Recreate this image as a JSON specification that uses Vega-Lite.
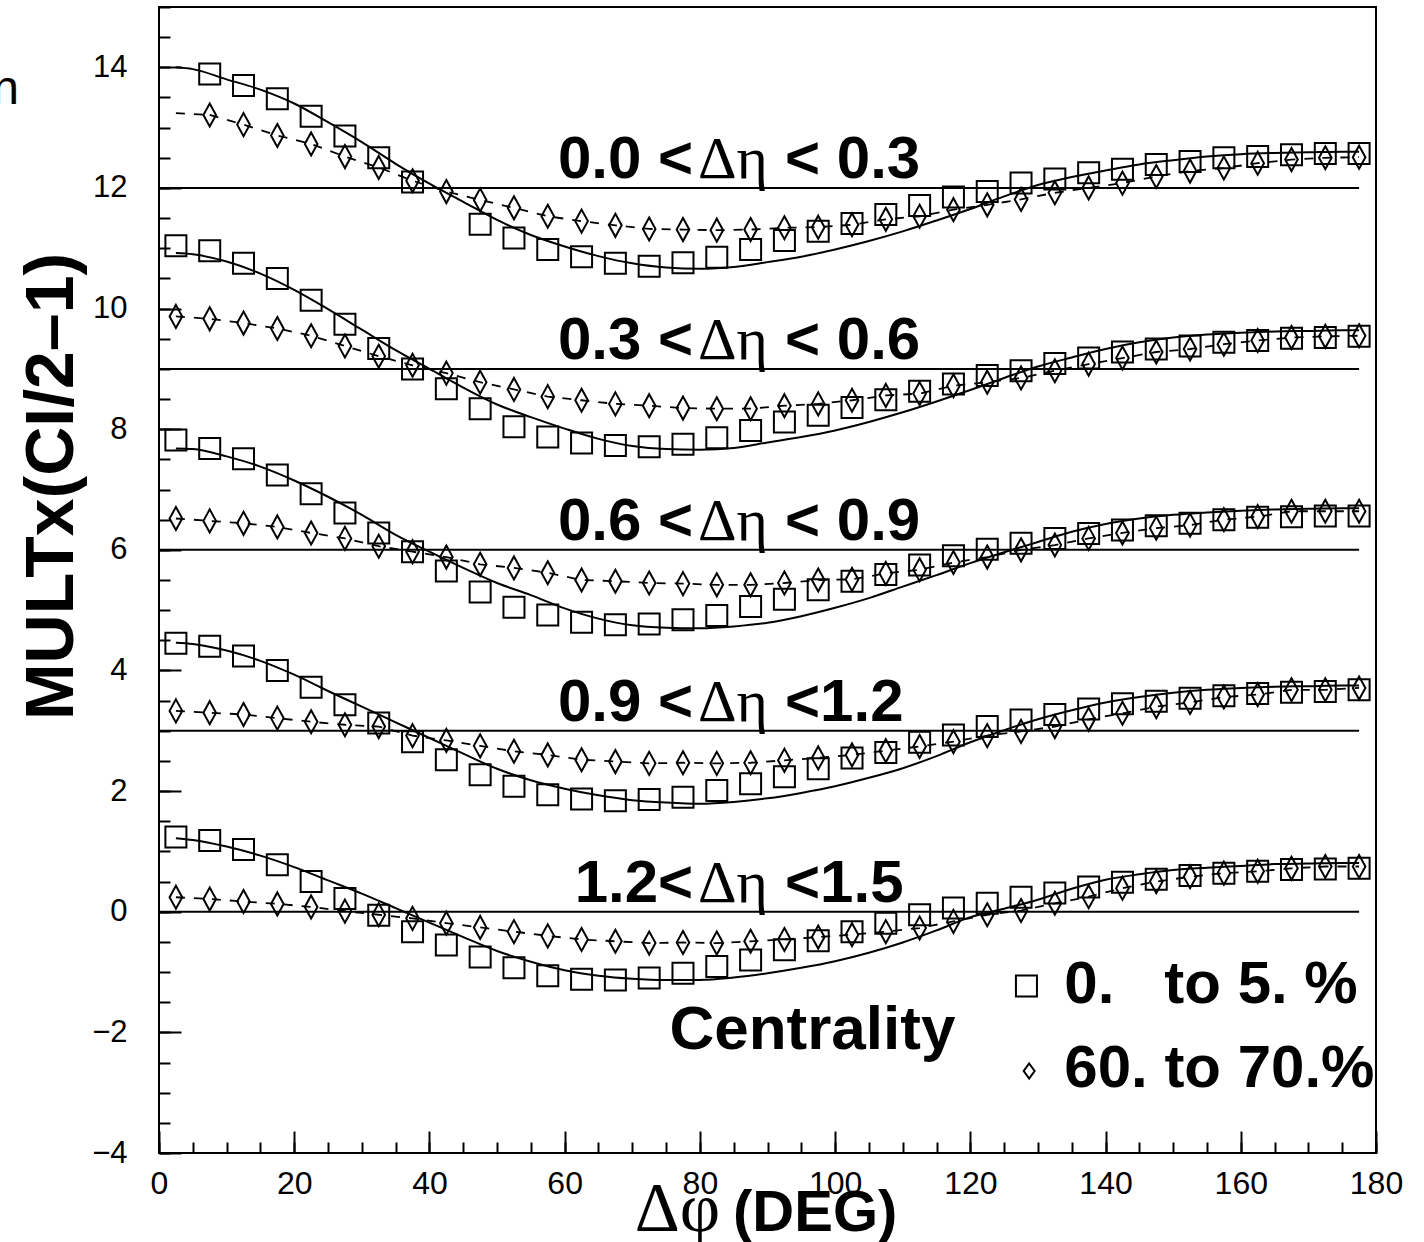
{
  "$schema": "https://vega.github.io/schema/vega-lite/v6.json",
  "width": 1217,
  "height": 1146,
  "autosize": {"type": "none"},
  "padding": {"left": 159, "top": 7, "right": 48, "bottom": 89},
  "background": "white",
  "config": {"view": {"stroke": "black", "strokeWidth": 2}, "axis": {"grid": false}},
  "datasets": {
    "base": [{"off": 12}, {"off": 9}, {"off": 6}, {"off": 3}, {"off": 0}],
    "lab": [
      {"off": 12, "lo": "0.0 <", "hi": "< 0.3"},
      {"off": 9, "lo": "0.3 <", "hi": "< 0.6"},
      {"off": 6, "lo": "0.6 <", "hi": "< 0.9"},
      {"off": 3, "lo": "0.9 <", "hi": "<1.2"},
      {"off": 0, "lo": "1.2<", "hi": "<1.5"}
    ],
    "pts": [
      {"phi": 2.5, "s1": null, "d1": null, "k1": 13.24, "s2": 11.04, "d2": 9.87, "s3": 7.82, "d3": 6.52, "s4": 4.45, "d4": 3.33, "s5": 1.24, "d5": 0.24},
      {"phi": 7.5, "s1": 13.89, "d1": 13.21, "k1": 13.21, "s2": 10.96, "d2": 9.83, "s3": 7.68, "d3": 6.48, "s4": 4.40, "d4": 3.30, "s5": 1.18, "d5": 0.21},
      {"phi": 12.5, "s1": 13.70, "d1": 13.05, "s2": 10.75, "d2": 9.76, "s3": 7.51, "d3": 6.44, "s4": 4.24, "d4": 3.27, "s5": 1.03, "d5": 0.17},
      {"phi": 17.5, "s1": 13.48, "d1": 12.87, "s2": 10.50, "d2": 9.67, "s3": 7.24, "d3": 6.38, "s4": 4.00, "d4": 3.21, "s5": 0.78, "d5": 0.13},
      {"phi": 22.5, "s1": 13.19, "d1": 12.73, "s2": 10.14, "d2": 9.55, "s3": 6.93, "d3": 6.28, "s4": 3.72, "d4": 3.15, "s5": 0.50, "d5": 0.08},
      {"phi": 27.5, "s1": 12.86, "d1": 12.52, "s2": 9.74, "d2": 9.38, "s3": 6.61, "d3": 6.19, "s4": 3.43, "d4": 3.10, "s5": 0.22, "d5": 0.01},
      {"phi": 32.5, "s1": 12.50, "d1": 12.34, "s2": 9.34, "d2": 9.21, "s3": 6.28, "d3": 6.06, "s4": 3.13, "d4": 3.07, "s5": -0.06, "d5": -0.05},
      {"phi": 37.5, "s1": 12.10, "d1": 12.12, "s2": 9.00, "d2": 9.06, "s3": 5.97, "d3": 5.97, "s4": 2.82, "d4": 2.92, "s5": -0.33, "d5": -0.11},
      {"phi": 42.5, "s1": null, "d1": 11.94, "s2": 8.67, "d2": 8.93, "s3": 5.65, "d3": 5.88, "s4": 2.52, "d4": 2.84, "s5": -0.55, "d5": -0.19},
      {"phi": 47.5, "s1": 11.40, "d1": 11.80, "s2": 8.34, "d2": 8.78, "s3": 5.30, "d3": 5.76, "s4": 2.27, "d4": 2.75, "s5": -0.75, "d5": -0.26},
      {"phi": 52.5, "s1": 11.17, "d1": 11.67, "s2": 8.04, "d2": 8.66, "s3": 5.05, "d3": 5.70, "s4": 2.08, "d4": 2.66, "s5": -0.93, "d5": -0.33},
      {"phi": 57.5, "s1": 10.98, "d1": 11.53, "s2": 7.87, "d2": 8.54, "s3": 4.92, "d3": 5.62, "s4": 1.94, "d4": 2.60, "s5": -1.06, "d5": -0.40},
      {"phi": 62.5, "s1": 10.86, "d1": 11.45, "s2": 7.77, "d2": 8.48, "s3": 4.80, "d3": 5.50, "s4": 1.87, "d4": 2.52, "s5": -1.12, "d5": -0.46},
      {"phi": 67.5, "s1": 10.75, "d1": 11.38, "s2": 7.73, "d2": 8.42, "s3": 4.76, "d3": 5.48, "s4": 1.84, "d4": 2.49, "s5": -1.13, "d5": -0.49},
      {"phi": 72.5, "s1": 10.70, "d1": 11.32, "s2": 7.71, "d2": 8.39, "s3": 4.77, "d3": 5.45, "s4": 1.86, "d4": 2.46, "s5": -1.10, "d5": -0.52},
      {"phi": 77.5, "s1": 10.76, "d1": 11.31, "s2": 7.75, "d2": 8.35, "s3": 4.84, "d3": 5.44, "s4": 1.90, "d4": 2.47, "s5": -1.02, "d5": -0.51},
      {"phi": 82.5, "s1": 10.85, "d1": 11.30, "s2": 7.86, "d2": 8.34, "s3": 4.91, "d3": 5.42, "s4": 2.01, "d4": 2.46, "s5": -0.91, "d5": -0.52},
      {"phi": 87.5, "s1": 10.98, "d1": 11.31, "s2": 7.98, "d2": 8.34, "s3": 5.06, "d3": 5.42, "s4": 2.12, "d4": 2.47, "s5": -0.80, "d5": -0.49},
      {"phi": 92.5, "s1": 11.13, "d1": 11.34, "s2": 8.12, "d2": 8.39, "s3": 5.18, "d3": 5.45, "s4": 2.24, "d4": 2.51, "s5": -0.63, "d5": -0.46},
      {"phi": 97.5, "s1": 11.28, "d1": 11.35, "s2": 8.23, "d2": 8.42, "s3": 5.34, "d3": 5.50, "s4": 2.37, "d4": 2.55, "s5": -0.48, "d5": -0.42},
      {"phi": 102.5, "s1": 11.41, "d1": 11.39, "s2": 8.36, "d2": 8.48, "s3": 5.48, "d3": 5.51, "s4": 2.55, "d4": 2.60, "s5": -0.33, "d5": -0.38},
      {"phi": 107.5, "s1": 11.56, "d1": 11.48, "s2": 8.49, "d2": 8.56, "s3": 5.59, "d3": 5.61, "s4": 2.64, "d4": 2.67, "s5": -0.19, "d5": -0.33},
      {"phi": 112.5, "s1": 11.71, "d1": 11.53, "s2": 8.63, "d2": 8.59, "s3": 5.75, "d3": 5.67, "s4": 2.81, "d4": 2.74, "s5": -0.05, "d5": -0.27},
      {"phi": 117.5, "s1": 11.85, "d1": 11.64, "s2": 8.75, "d2": 8.72, "s3": 5.90, "d3": 5.79, "s4": 2.93, "d4": 2.82, "s5": 0.06, "d5": -0.16},
      {"phi": 122.5, "s1": 11.94, "d1": 11.72, "s2": 8.89, "d2": 8.78, "s3": 6.01, "d3": 5.88, "s4": 3.07, "d4": 2.92, "s5": 0.14, "d5": -0.05},
      {"phi": 127.5, "s1": 12.08, "d1": 11.81, "s2": 8.97, "d2": 8.85, "s3": 6.11, "d3": 6.00, "s4": 3.18, "d4": 2.99, "s5": 0.24, "d5": 0.02},
      {"phi": 132.5, "s1": 12.15, "d1": 11.92, "s2": 9.09, "d2": 8.97, "s3": 6.19, "d3": 6.08, "s4": 3.27, "d4": 3.07, "s5": 0.31, "d5": 0.14},
      {"phi": 137.5, "s1": 12.25, "d1": 12.00, "s2": 9.18, "d2": 9.08, "s3": 6.27, "d3": 6.19, "s4": 3.36, "d4": 3.19, "s5": 0.41, "d5": 0.25},
      {"phi": 142.5, "s1": 12.31, "d1": 12.08, "s2": 9.28, "d2": 9.18, "s3": 6.33, "d3": 6.28, "s4": 3.45, "d4": 3.29, "s5": 0.49, "d5": 0.39},
      {"phi": 147.5, "s1": 12.39, "d1": 12.19, "s2": 9.33, "d2": 9.28, "s3": 6.40, "d3": 6.36, "s4": 3.49, "d4": 3.40, "s5": 0.54, "d5": 0.50},
      {"phi": 152.5, "s1": 12.44, "d1": 12.28, "s2": 9.38, "d2": 9.33, "s3": 6.44, "d3": 6.41, "s4": 3.54, "d4": 3.47, "s5": 0.60, "d5": 0.58},
      {"phi": 157.5, "s1": 12.50, "d1": 12.33, "s2": 9.44, "d2": 9.41, "s3": 6.50, "d3": 6.50, "s4": 3.58, "d4": 3.56, "s5": 0.64, "d5": 0.64},
      {"phi": 162.5, "s1": 12.52, "d1": 12.41, "s2": 9.47, "d2": 9.47, "s3": 6.54, "d3": 6.55, "s4": 3.62, "d4": 3.60, "s5": 0.67, "d5": 0.67},
      {"phi": 167.5, "s1": 12.55, "d1": 12.47, "s2": 9.51, "d2": 9.52, "s3": 6.55, "d3": 6.64, "s4": 3.64, "d4": 3.68, "s5": 0.70, "d5": 0.72},
      {"phi": 172.5, "s1": 12.57, "d1": 12.50, "s2": 9.52, "d2": 9.54, "s3": 6.56, "d3": 6.64, "s4": 3.65, "d4": 3.68, "s5": 0.71, "d5": 0.75},
      {"phi": 177.5, "s1": 12.57, "d1": 12.51, "s2": 9.54, "d2": 9.55, "s3": 6.56, "d3": 6.64, "s4": 3.68, "d4": 3.71, "s5": 0.72, "d5": 0.75}
    ],
    "fit": [
      {"phi": 2.5, "f1": 14.00, "f2": 10.92, "f3": 7.68, "f4": 4.46, "f5": 1.22},
      {"phi": 5, "f1": 13.97, "f2": 10.90, "f3": 7.67, "f4": 4.44, "f5": 1.19},
      {"phi": 10, "f1": 13.80, "f2": 10.78, "f3": 7.55, "f4": 4.33, "f5": 1.08},
      {"phi": 15, "f1": 13.63, "f2": 10.58, "f3": 7.38, "f4": 4.16, "f5": 0.93},
      {"phi": 20, "f1": 13.40, "f2": 10.31, "f3": 7.15, "f4": 3.93, "f5": 0.74},
      {"phi": 25, "f1": 13.09, "f2": 9.99, "f3": 6.88, "f4": 3.66, "f5": 0.52},
      {"phi": 30, "f1": 12.76, "f2": 9.65, "f3": 6.58, "f4": 3.40, "f5": 0.30},
      {"phi": 35, "f1": 12.40, "f2": 9.31, "f3": 6.25, "f4": 3.14, "f5": 0.06},
      {"phi": 40, "f1": 12.07, "f2": 9.00, "f3": 5.97, "f4": 2.88, "f5": -0.18},
      {"phi": 45, "f1": 11.77, "f2": 8.69, "f3": 5.70, "f4": 2.62, "f5": -0.42},
      {"phi": 50, "f1": 11.47, "f2": 8.41, "f3": 5.45, "f4": 2.37, "f5": -0.65},
      {"phi": 55, "f1": 11.22, "f2": 8.20, "f3": 5.25, "f4": 2.18, "f5": -0.83},
      {"phi": 60, "f1": 11.03, "f2": 8.01, "f3": 5.03, "f4": 2.04, "f5": -0.97},
      {"phi": 65, "f1": 10.87, "f2": 7.84, "f3": 4.86, "f4": 1.93, "f5": -1.06},
      {"phi": 70, "f1": 10.75, "f2": 7.72, "f3": 4.75, "f4": 1.85, "f5": -1.11},
      {"phi": 75, "f1": 10.68, "f2": 7.67, "f3": 4.71, "f4": 1.81, "f5": -1.13},
      {"phi": 80, "f1": 10.66, "f2": 7.66, "f3": 4.70, "f4": 1.79, "f5": -1.13},
      {"phi": 85, "f1": 10.69, "f2": 7.69, "f3": 4.73, "f4": 1.82, "f5": -1.09},
      {"phi": 90, "f1": 10.77, "f2": 7.78, "f3": 4.79, "f4": 1.88, "f5": -1.02},
      {"phi": 95, "f1": 10.86, "f2": 7.87, "f3": 4.90, "f4": 1.97, "f5": -0.93},
      {"phi": 100, "f1": 10.98, "f2": 7.98, "f3": 5.04, "f4": 2.08, "f5": -0.82},
      {"phi": 105, "f1": 11.12, "f2": 8.12, "f3": 5.20, "f4": 2.22, "f5": -0.68},
      {"phi": 110, "f1": 11.28, "f2": 8.28, "f3": 5.39, "f4": 2.38, "f5": -0.51},
      {"phi": 115, "f1": 11.46, "f2": 8.46, "f3": 5.58, "f4": 2.58, "f5": -0.31},
      {"phi": 120, "f1": 11.65, "f2": 8.65, "f3": 5.78, "f4": 2.81, "f5": -0.09},
      {"phi": 125, "f1": 11.86, "f2": 8.85, "f3": 5.96, "f4": 3.01, "f5": 0.05},
      {"phi": 130, "f1": 12.05, "f2": 9.04, "f3": 6.13, "f4": 3.19, "f5": 0.20},
      {"phi": 135, "f1": 12.18, "f2": 9.19, "f3": 6.30, "f4": 3.34, "f5": 0.38},
      {"phi": 140, "f1": 12.29, "f2": 9.33, "f3": 6.43, "f4": 3.47, "f5": 0.53},
      {"phi": 145, "f1": 12.39, "f2": 9.44, "f3": 6.52, "f4": 3.56, "f5": 0.62},
      {"phi": 150, "f1": 12.46, "f2": 9.52, "f3": 6.58, "f4": 3.63, "f5": 0.69},
      {"phi": 155, "f1": 12.52, "f2": 9.57, "f3": 6.62, "f4": 3.68, "f5": 0.73},
      {"phi": 160, "f1": 12.56, "f2": 9.60, "f3": 6.65, "f4": 3.71, "f5": 0.76},
      {"phi": 165, "f1": 12.58, "f2": 9.62, "f3": 6.67, "f4": 3.73, "f5": 0.79},
      {"phi": 170, "f1": 12.59, "f2": 9.63, "f3": 6.68, "f4": 3.74, "f5": 0.80},
      {"phi": 175, "f1": 12.60, "f2": 9.64, "f3": 6.69, "f4": 3.75, "f5": 0.81},
      {"phi": 177.5, "f1": 12.60, "f2": 9.64, "f3": 6.69, "f4": 3.75, "f5": 0.81}
    ]
  },
  "layer": [
    {
      "data": {"name": "base"},
      "mark": {"type": "rule", "stroke": "black", "strokeWidth": 2},
      "encoding": {
        "x": {"datum": 0, "type": "quantitative", "axis": null},
        "x2": {"datum": 177.5},
        "y": {"field": "off", "type": "quantitative", "axis": null}
      }
    },
    {
      "data": {"name": "fit"},
      "transform": [{"fold": ["f1", "f2", "f3", "f4", "f5"], "as": ["band", "v"]}],
      "mark": {"type": "line", "stroke": "black", "strokeWidth": 2, "interpolate": "monotone"},
      "encoding": {
        "x": {"field": "phi", "type": "quantitative", "axis": null},
        "y": {"field": "v", "type": "quantitative", "axis": null},
        "detail": {"field": "band"}
      }
    },
    {
      "data": {"name": "pts"},
      "transform": [
        {"fold": ["d1", "d2", "d3", "d4", "d5"], "as": ["band", "v"]},
        {"filter": "isValid(datum.v)"}
      ],
      "mark": {"type": "line", "stroke": "black", "strokeWidth": 1.8, "strokeDash": [9, 9]},
      "encoding": {
        "x": {"field": "phi", "type": "quantitative", "axis": null},
        "y": {"field": "v", "type": "quantitative", "axis": null},
        "detail": {"field": "band"}
      }
    },
    {
      "data": {"name": "pts"},
      "transform": [
        {"fold": ["k1"], "as": ["band", "v"]},
        {"filter": "isValid(datum.v)"}
      ],
      "mark": {"type": "line", "stroke": "black", "strokeWidth": 1.8, "strokeDash": [9, 9]},
      "encoding": {
        "x": {"field": "phi", "type": "quantitative", "axis": null},
        "y": {"field": "v", "type": "quantitative", "axis": null}
      }
    },
    {
      "data": {"name": "pts"},
      "transform": [
        {"fold": ["s1", "s2", "s3", "s4", "s5"], "as": ["band", "v"]},
        {"filter": "isValid(datum.v)"}
      ],
      "mark": {"type": "point", "shape": "square", "size": 441, "filled": false, "stroke": "black", "strokeWidth": 2, "opacity": 1},
      "encoding": {
        "x": {
          "field": "phi", "type": "quantitative",
          "scale": {"domain": [0, 180], "nice": false, "zero": false},
          "axis": {
            "orient": "bottom", "values": [0, 20, 40, 60, 80, 100, 120, 140, 160, 180],
            "tickSize": -22, "tickWidth": 2, "tickColor": "black", "domain": false,
            "labelFont": "Liberation Sans", "labelFontSize": 32, "labelColor": "black",
            "labelPadding": 37, "labelFlush": false, "labelOverlap": false, "title": null
          }
        },
        "y": {
          "field": "v", "type": "quantitative",
          "scale": {"domain": [-4, 15], "nice": false, "zero": false},
          "axis": {
            "orient": "left", "values": [-4, -2, 0, 2, 4, 6, 8, 10, 12, 14],
            "tickSize": -22, "tickWidth": 2, "tickColor": "black", "domain": false,
            "labelFont": "Liberation Sans", "labelFontSize": 31, "labelColor": "black",
            "labelPadding": 54, "labelFlush": false, "labelOverlap": false,
            "title": "MULTx(CI/2–1)", "titleFont": "Liberation Sans", "titleFontWeight": "bold",
            "titleFontSize": 68, "titleColor": "black", "titleAngle": -90,
            "titleX": -87, "titleY": 479, "titleAlign": "center", "titleBaseline": "alphabetic"
          }
        }
      }
    },
    {
      "data": {"name": "pts"},
      "transform": [
        {"fold": ["d1", "d2", "d3", "d4", "d5"], "as": ["band", "v"]},
        {"filter": "isValid(datum.v)"}
      ],
      "mark": {"type": "point", "shape": "M0,-1L0.55,0L0,1L-0.55,0Z", "size": 529, "filled": false, "stroke": "black", "strokeWidth": 2, "opacity": 1},
      "encoding": {
        "x": {
          "field": "phi", "type": "quantitative",
          "axis": {
            "orient": "bottom",
            "values": [0, 5, 10, 15, 20, 25, 30, 35, 40, 45, 50, 55, 60, 65, 70, 75, 80, 85, 90, 95, 100, 105, 110, 115, 120, 125, 130, 135, 140, 145, 150, 155, 160, 165, 170, 175, 180],
            "tickSize": -11, "tickWidth": 2, "tickColor": "black", "domain": false,
            "labels": false, "title": null
          }
        },
        "y": {
          "field": "v", "type": "quantitative",
          "axis": {
            "orient": "left",
            "values": [-4, -3.5, -3, -2.5, -2, -1.5, -1, -0.5, 0, 0.5, 1, 1.5, 2, 2.5, 3, 3.5, 4, 4.5, 5, 5.5, 6, 6.5, 7, 7.5, 8, 8.5, 9, 9.5, 10, 10.5, 11, 11.5, 12, 12.5, 13, 13.5, 14, 14.5, 15],
            "tickSize": -11, "tickWidth": 2, "tickColor": "black", "domain": false,
            "labels": false, "title": null
          }
        }
      }
    },
    {
      "data": {"name": "lab"},
      "mark": {"type": "text", "align": "right", "baseline": "alphabetic", "dy": -10, "font": "Liberation Sans", "fontWeight": "bold", "fontSize": 60, "color": "black"},
      "encoding": {
        "x": {"datum": 79.0, "type": "quantitative", "axis": null},
        "y": {"field": "off", "type": "quantitative", "axis": null},
        "text": {"field": "lo"}
      }
    },
    {
      "data": {"name": "lab"},
      "mark": {"type": "text", "align": "center", "baseline": "alphabetic", "dy": -10, "font": "Liberation Serif", "fontSize": 60, "color": "black", "text": "Δη"},
      "encoding": {
        "x": {"datum": 84.9, "type": "quantitative", "axis": null},
        "y": {"field": "off", "type": "quantitative", "axis": null}
      }
    },
    {
      "data": {"name": "lab"},
      "mark": {"type": "text", "align": "left", "baseline": "alphabetic", "dy": -10, "font": "Liberation Sans", "fontWeight": "bold", "fontSize": 60, "color": "black"},
      "encoding": {
        "x": {"datum": 92.6, "type": "quantitative", "axis": null},
        "y": {"field": "off", "type": "quantitative", "axis": null},
        "text": {"field": "hi"}
      }
    },
    {
      "data": {"values": [{"t": "Centrality"}]},
      "mark": {"type": "text", "align": "left", "baseline": "alphabetic", "font": "Liberation Sans", "fontWeight": "bold", "fontSize": 62, "color": "black"},
      "encoding": {
        "x": {"datum": 75.5, "type": "quantitative", "axis": null},
        "y": {"datum": -2.27, "type": "quantitative", "axis": null},
        "text": {"field": "t"}
      }
    },
    {
      "data": {"values": [{"t": "0.\u00a0\u00a0\u00a0to\u00a05.\u00a0%"}]},
      "mark": {"type": "text", "align": "left", "baseline": "alphabetic", "font": "Liberation Sans", "fontWeight": "bold", "fontSize": 60, "color": "black"},
      "encoding": {
        "x": {"datum": 133.9, "type": "quantitative", "axis": null},
        "y": {"datum": -1.51, "type": "quantitative", "axis": null},
        "text": {"field": "t"}
      }
    },
    {
      "data": {"values": [{"t": "60. to 70.%"}]},
      "mark": {"type": "text", "align": "left", "baseline": "alphabetic", "font": "Liberation Sans", "fontWeight": "bold", "fontSize": 60, "color": "black"},
      "encoding": {
        "x": {"datum": 133.9, "type": "quantitative", "axis": null},
        "y": {"datum": -2.9, "type": "quantitative", "axis": null},
        "text": {"field": "t"}
      }
    },
    {
      "data": {"values": [{"c": "0. to 5. %"}]},
      "mark": {"type": "point", "shape": "square", "size": 441, "filled": false, "stroke": "black", "strokeWidth": 2, "opacity": 1},
      "encoding": {
        "x": {"datum": 128.3, "type": "quantitative", "axis": null},
        "y": {"datum": -1.23, "type": "quantitative", "axis": null}
      }
    },
    {
      "data": {"values": [{"c": "60. to 70.%"}]},
      "mark": {"type": "point", "shape": "M0,-1L0.73,0L0,1L-0.73,0Z", "size": 225, "filled": false, "stroke": "black", "strokeWidth": 2, "opacity": 1},
      "encoding": {
        "x": {"datum": 128.7, "type": "quantitative", "axis": null},
        "y": {"datum": -2.64, "type": "quantitative", "axis": null}
      }
    },
    {
      "data": {"values": [{"t": "Δφ"}]},
      "mark": {"type": "text", "align": "right", "baseline": "alphabetic", "font": "Liberation Serif", "fontSize": 70, "color": "black"},
      "encoding": {
        "x": {"datum": 83.0, "type": "quantitative", "axis": null},
        "y": {"datum": -5.3, "type": "quantitative", "axis": null},
        "text": {"field": "t"}
      }
    },
    {
      "data": {"values": [{"t": "(DEG)"}]},
      "mark": {"type": "text", "align": "left", "baseline": "alphabetic", "font": "Liberation Sans", "fontWeight": "bold", "fontSize": 58, "color": "black"},
      "encoding": {
        "x": {"datum": 84.9, "type": "quantitative", "axis": null},
        "y": {"datum": -5.3, "type": "quantitative", "axis": null},
        "text": {"field": "t"}
      }
    },
    {
      "data": {"values": [{"t": "n"}]},
      "mark": {"type": "text", "align": "right", "baseline": "alphabetic", "font": "Liberation Sans", "fontSize": 48, "color": "black"},
      "encoding": {
        "x": {"datum": -20.7, "type": "quantitative", "axis": null},
        "y": {"datum": 13.39, "type": "quantitative", "axis": null},
        "text": {"field": "t"}
      }
    }
  ],
  "resolve": {"axis": {"x": "independent", "y": "independent"}}
}
